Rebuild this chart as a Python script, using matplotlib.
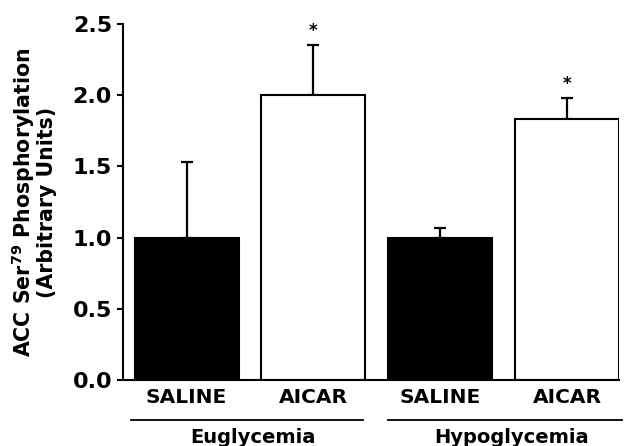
import numpy as np
import matplotlib
matplotlib.use("Agg")
import matplotlib.pyplot as plt

plt.rcParams['font.family'] = ['DejaVu Sans']
plt.rcParams['font.weight'] = 'bold'
plt.rcParams['mathtext.default'] = 'regular'

# data
labels = ["SALINE", "AICAR", "SALINE", "AICAR"]
means = [1.00, 2.00, 1.00, 1.83]
sems = [0.53, 0.35, 0.07, 0.15]
colors = ["black", "white", "black", "white"]
significant = [False, True, False, True]
groups = ["Euglycemia", "Hypoglycemia"]

fig = plt.figure(figsize=(6.28, 4.46), dpi=100)
ax = fig.add_axes([0.196, 0.148, 0.790, 0.798])

x = np.arange(len(means))
ax.bar(x, means, width=0.82, color=colors, edgecolor="black", linewidth=1.5, zorder=2)
ax.errorbar(x, means, yerr=[np.zeros(len(sems)), sems], fmt="none",
            ecolor="black", elinewidth=1.6, capsize=4.2, capthick=1.6, zorder=1)

for xi, m, s, sig in zip(x, means, sems, significant):
    if sig:
        ax.annotate("*", (xi, m + s), xytext=(0, 4), textcoords="offset points",
                    ha="center", va="bottom", fontsize=12, fontweight="bold")

ax.set_xlim(-0.5, 3.41)
ax.set_ylim(0, 2.5)
ax.set_yticks(np.arange(0, 2.51, 0.5))
ax.set_yticklabels([f"{v:.1f}" for v in np.arange(0, 2.51, 0.5)])
ax.set_xticks(x)
ax.set_xticklabels(labels)
ax.tick_params(axis="x", length=0, pad=6, labelsize=14.5)
ax.tick_params(axis="y", length=4.3, width=1.5, pad=3.6, labelsize=16, direction="out")

for side in ["top", "right"]:
    ax.spines[side].set_visible(False)
for side in ["left", "bottom"]:
    ax.spines[side].set_linewidth(1.5)

ax.set_ylabel("ACC Ser$^{79}$ Phosphorylation\n(Arbitrary Units)", fontsize=14.8,
              fontweight="bold", linespacing=1.0)
ax.yaxis.set_label_coords(-0.133, 0.5)

# group brackets under the tick labels
trans = ax.get_xaxis_transform()
spans = [(-0.44, 1.39), (1.59, 3.43)]
centers = [0.52, 2.56]
for (a, b), c, g in zip(spans, centers, groups):
    ax.plot([a, b], [-0.112, -0.112], color="black", lw=1.3, transform=trans, clip_on=False)
    ax.text(c, -0.178, g, transform=trans, ha="center", va="baseline", fontsize=14,
            fontweight="bold")

fig.savefig("out.png", dpi=100)
